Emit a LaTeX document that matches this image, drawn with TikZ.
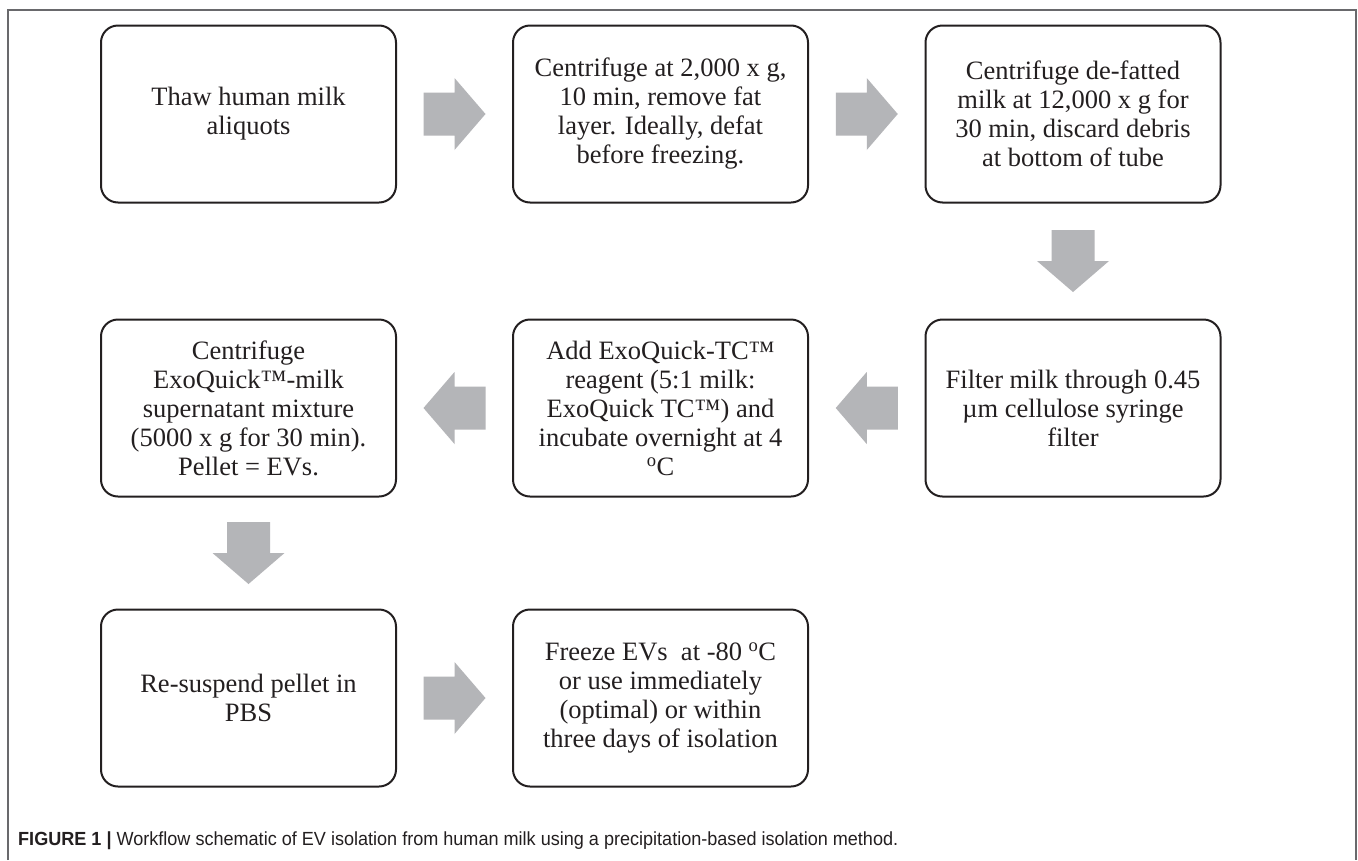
\documentclass[tikz,border=0pt]{standalone}
\usepackage{fontspec}
\usepackage{graphicx}
\setmainfont{Liberation Serif}
\newfontfamily\capfont{Liberation Sans}
\usetikzlibrary{calc}
\definecolor{boxline}{RGB}{35,31,32}
\definecolor{arrowgray}{RGB}{180,181,184}
\definecolor{framegray}{RGB}{105,105,108}
\tikzset{
  stepbox/.style={draw=boxline, line width=2pt, rounded corners=17pt,
    minimum width=295pt, minimum height=177pt, align=center, inner sep=0pt,
    text=boxline, font=\fontsize{26.5}{29}\selectfont},
  blockarrow/.style={fill=arrowgray}
}
\newcommand{\flowarrow}[3]{%
  \path ($(#1)!0.5!(#2)$) coordinate (mid);
  \fill[blockarrow, shift={(mid)}, rotate=#3]
    (-31pt,-21.5pt) -- (0pt,-21.5pt) -- (0pt,-36pt) -- (31pt,0pt)
    -- (0pt,36pt) -- (0pt,21.5pt) -- (-31pt,21.5pt) -- cycle;
}
\begin{document}
\begin{tikzpicture}[x=1pt,y=-1pt]
\useasboundingbox (0,0) rectangle (1358,860);
\fill[white] (0,0) rectangle (1358,860);
\draw[framegray, line width=1.3pt] (8,860) -- (8,10) -- (1356,10) -- (1356,860);

\node[stepbox] (b1) at (248.5,114) {Thaw human milk\\aliquots};
\node[stepbox] (b2) at (660.5,114) {Centrifuge at 2,000 x g,\\10 min, remove fat\\layer. Ideally, defat\\before freezing.};
\node[stepbox] (b3) at (1073,114) {Centrifuge de-fatted\\milk at 12,000 x g for\\30 min, discard debris\\at bottom of tube};
\node[stepbox] (b4) at (1073,408) {Filter milk through 0.45\\µm cellulose syringe\\filter};
\node[stepbox] (b5) at (660.5,408) {Add ExoQuick-TC™\\reagent (5:1 milk:\\ExoQuick TC™) and\\incubate overnight at 4\\\textsuperscript{o}C};
\node[stepbox] (b6) at (248.5,408) {Centrifuge\\ExoQuick™-milk\\supernatant mixture\\(5000 x g for 30 min).\\Pellet = EVs.};
\node[stepbox] (b7) at (248.5,698) {Re-suspend pellet in\\PBS};
\node[stepbox] (b8) at (660.5,698) {Freeze EVs\ \ at -80 \textsuperscript{o}C\\or use immediately\\(optimal) or within\\three days of isolation};

\flowarrow{b1.east}{b2.west}{0}
\flowarrow{b2.east}{b3.west}{0}
\flowarrow{b3.south}{b4.north}{-90}
\flowarrow{b4.west}{b5.east}{180}
\flowarrow{b5.west}{b6.east}{180}
\flowarrow{b6.south}{b7.north}{-90}
\flowarrow{b7.east}{b8.west}{0}

\node[anchor=base west, inner sep=0pt, text=boxline] (cap) at (18,845)
  {\resizebox{880pt}{\height}{\capfont\fontsize{19}{21}\selectfont\textbf{FIGURE 1 |} Workflow schematic of EV isolation from human milk using a precipitation-based isolation method.}};
\end{tikzpicture}
\end{document}
